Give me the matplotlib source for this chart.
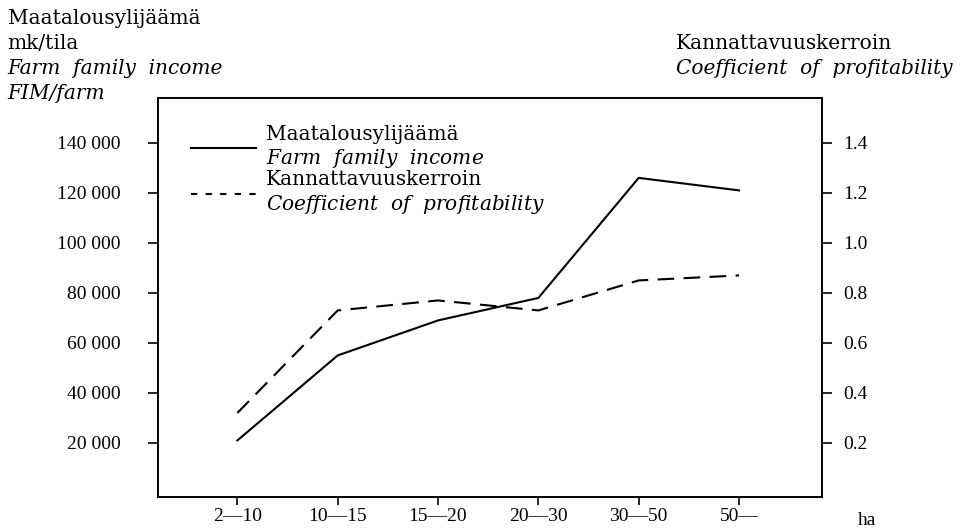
import matplotlib
matplotlib.use("Agg")
import matplotlib.pyplot as plt
from matplotlib.lines import Line2D

# data
sizes = ["2—10", "10—15", "15—20", "20—30", "30—50", "50—"]
income = [21000, 55000, 69000, 78000, 126000, 121000]      # FIM/farm
coefficient = [0.32, 0.73, 0.77, 0.73, 0.85, 0.87]
left_ticks = [20000, 40000, 60000, 80000, 100000, 120000, 140000]
right_ticks = [0.2, 0.4, 0.6, 0.8, 1.0, 1.2, 1.4]

plt.rcParams["font.family"] = "Liberation Serif"
plt.rcParams["mathtext.fontset"] = "custom"
plt.rcParams["mathtext.it"] = "DejaVu Serif:italic"
plt.rcParams["mathtext.rm"] = "DejaVu Serif"
fs = 14          # tick labels
tfs = 14.5       # titles / legend
tfont = "DejaVu Serif"

fig = plt.figure(figsize=(9.64, 5.29), dpi=100)
ax = fig.add_axes([0.164, 0.0605, 0.689, 0.7545])
ax2 = ax.twinx()

x = list(range(len(sizes)))
ax.plot(x, income, color="black", lw=1.5)
ax2.plot(x, coefficient, color="black", lw=1.5, ls=(0, (8, 4.5)))

ax.set_xlim(-0.79, 5.83)
ax.set_ylim(-1600, 158000)
ax2.set_ylim(-0.016, 1.58)

ax.set_xticks(x, labels=sizes)
ax.set_yticks(left_ticks, labels=[f"{v:,}".replace(",", " ") for v in left_ticks])
ax2.set_yticks(right_ticks, labels=[f"{v:.1f}" for v in right_ticks])
ax.tick_params(axis="y", direction="out", length=7, width=1.2, pad=20, labelsize=fs)
ax.tick_params(axis="x", direction="out", length=6, width=1.2, pad=2, labelsize=fs)
ax2.tick_params(axis="y", direction="out", length=7, width=1.2, pad=8, labelsize=fs)
for a in (ax, ax2):
    for s in a.spines.values():
        s.set_linewidth(1.2)

handles = [Line2D([], [], color="black", lw=1.5),
           Line2D([], [], color="black", lw=1.5, ls=(0, (3, 4)))]
labels = ["Maatalousylijäämä\n$\\it{Farm\\ \\ family\\ \\ income}$",
          "Kannattavuuskerroin\n$\\it{Coefficient\\ \\ of\\ \\ profitability}$"]
leg = ax.legend(handles, labels, loc="upper left", bbox_to_anchor=(0.038, 0.952),
                frameon=False, prop={"family": tfont, "size": tfs},
                handlelength=3.2, handletextpad=0.5, labelspacing=0.0,
                borderaxespad=0)
for t in leg.get_texts():
    t.set_linespacing(1.2)

fig.text(0.008, 0.9546, "Maatalousylijäämä", fontsize=tfs, va="baseline", family=tfont)
fig.text(0.008, 0.9074, "mk/tila", fontsize=tfs, va="baseline", family=tfont)
fig.text(0.008, 0.860, "Farm  family  income", fontsize=tfs, va="baseline",
         style="italic", family=tfont)
fig.text(0.008, 0.8129, "FIM/farm", fontsize=tfs, va="baseline", style="italic",
         family=tfont)
fig.text(0.701, 0.9074, "Kannattavuuskerroin", fontsize=tfs, va="baseline",
         family=tfont)
fig.text(0.701, 0.860, "Coefficient  of  profitability", fontsize=tfs,
         va="baseline", style="italic", family=tfont)
fig.text(0.890, 0.008, "ha", fontsize=fs, va="baseline")

fig.savefig("out.png", dpi=100)
